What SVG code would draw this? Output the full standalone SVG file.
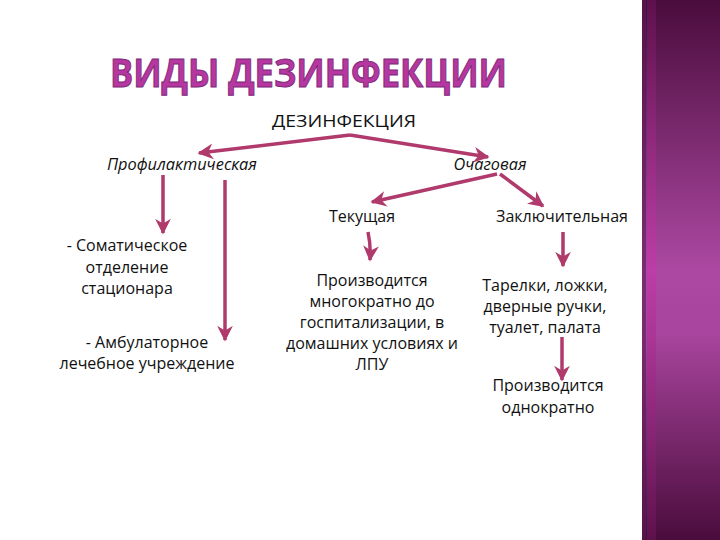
<svg xmlns="http://www.w3.org/2000/svg" width="720" height="540" viewBox="0 0 720 540">
<defs>
<linearGradient id="bar" x1="0" y1="0" x2="0" y2="1">
<stop offset="0" stop-color="#4a0c3c"/>
<stop offset="0.5" stop-color="#ac48a2"/>
<stop offset="0.62" stop-color="#a8449d"/>
<stop offset="1" stop-color="#4a0c3c"/>
</linearGradient>
<linearGradient id="stripe" x1="0" y1="0" x2="0" y2="1">
<stop offset="0" stop-color="#6a1456" stop-opacity="0.6"/>
<stop offset="0.5" stop-color="#c03aa8" stop-opacity="0.8"/>
<stop offset="1" stop-color="#6a1456" stop-opacity="0.6"/>
</linearGradient>
<marker id="ah" viewBox="0 0 10 10" refX="9" refY="5" markerWidth="4.5" markerHeight="4.5" orient="auto" markerUnits="strokeWidth">
<path d="M0,0 L10,5 L0,10 L3,5 Z" fill="#b03a6c"/>
</marker>
<style>
.t{font-family:"Open Sans","Liberation Sans",sans-serif;font-size:16px;fill:#111;text-anchor:middle}
.i{font-family:"Open Sans","Liberation Sans",sans-serif;font-size:16px;font-style:italic;fill:#111;text-anchor:middle}
.c{fill:none;stroke:#b03a6c;stroke-width:3.5;marker-end:url(#ah)}
</style>
</defs>
<rect width="720" height="540" fill="#fff"/>
<rect x="642" y="0" width="78" height="540" fill="url(#bar)"/>
<rect x="647" y="0" width="9" height="540" fill="url(#stripe)"/>
<rect x="642" y="0" width="4" height="540" fill="#5a1a55" opacity="0.6"/>
<text x="110" y="87" font-family="'Open Sans','Liberation Sans',sans-serif" font-weight="bold" font-size="40" fill="#b5379f" stroke="#7b2a78" stroke-width="1" textLength="397" lengthAdjust="spacingAndGlyphs">ВИДЫ ДЕЗИНФЕКЦИИ</text>
<g id="connectors">
<polyline class="c" points="350,135 199,153"/>
<polyline class="c" points="350,135 488,157"/>
<line class="c" x1="497" y1="174" x2="372" y2="202"/>
<line class="c" x1="500" y1="174" x2="543" y2="206"/>
<line class="c" x1="163" y1="175" x2="163" y2="233"/>
<line class="c" x1="225" y1="180" x2="225" y2="340"/>
<path class="c" d="M368,232 Q371,246 370,260"/>
<line class="c" x1="563" y1="232" x2="563" y2="266"/>
<line class="c" x1="562" y1="337" x2="562" y2="380"/>
</g>
<g id="root"><text class="t" x="344" y="127" textLength="144" lengthAdjust="spacingAndGlyphs">ДЕЗИНФЕКЦИЯ</text></g>
<g id="prof"><text class="i" x="182" y="170" textLength="150" lengthAdjust="spacingAndGlyphs">Профилактическая</text></g>
<g id="ochag"><text class="i" x="490" y="170" textLength="73" lengthAdjust="spacingAndGlyphs">Очаговая</text></g>
<g id="tek"><text class="t" x="362" y="222">Текущая</text></g>
<g id="zakl"><text class="t" x="562" y="222">Заключительная</text></g>
<g id="somat"><text class="t" x="127" y="251">- Соматическое</text><text class="t" x="127" y="273">отделение</text><text class="t" x="127" y="294">стационара</text></g>
<g id="ambul"><text class="t" x="147" y="348">- Амбулаторное</text><text class="t" x="147" y="369">лечебное учреждение</text></g>
<g id="tekdesc"><text class="t" x="372" y="286">Производится</text><text class="t" x="372" y="307">многократно до</text><text class="t" x="372" y="328">госпитализации, в</text><text class="t" x="372" y="349">домашних условиях и</text><text class="t" x="372" y="370">ЛПУ</text></g>
<g id="zakldesc"><text class="t" x="545" y="291">Тарелки, ложки,</text><text class="t" x="545" y="312">дверные ручки,</text><text class="t" x="545" y="333">туалет, палата</text></g>
<g id="odnokr"><text class="t" x="548" y="391">Производится</text><text class="t" x="548" y="413">однократно</text></g>
</svg>
